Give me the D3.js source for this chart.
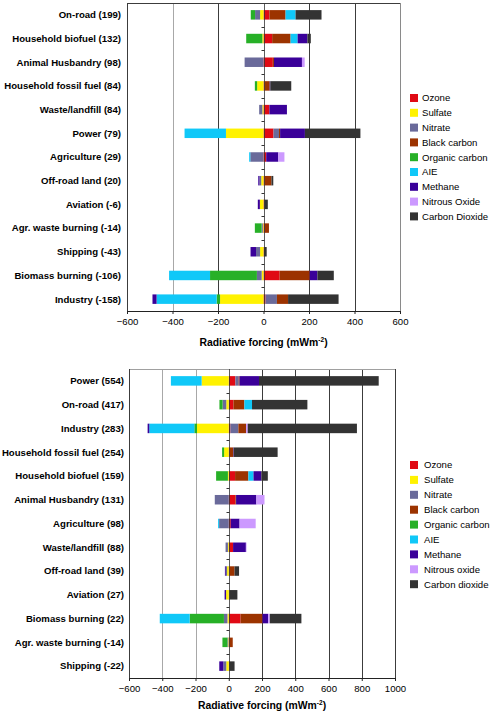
<!DOCTYPE html>
<html><head><meta charset="utf-8">
<script src="https://cdn.jsdelivr.net/npm/d3@7"></script>
<style>
html,body{margin:0;padding:0;background:#fff;}
svg text{font-family:"Liberation Sans",Arial,Helvetica,sans-serif;fill:#000;}
</style></head>
<body>
<svg id="chart" width="494" height="714"></svg>
<script>
// ---- shared ----
const seriesKeys = ["ozone","sulfate","nitrate","bc","oc","aie","methane","n2o","co2"];
const seriesColors = ["#e00a14","#fff200","#6a6a9a","#9c3300","#27b027","#10c8f8","#3a0099","#cc99ff","#333333"];
const legendTop = ["Ozone","Sulfate","Nitrate","Black carbon","Organic carbon","AIE","Methane","Nitrous Oxide","Carbon Dioxide"];
const legendBottom = ["Ozone","Sulfate","Nitrate","Black carbon","Organic carbon","AIE","Methane","Nitrous oxide","Carbon dioxide"];

// ---- top chart data ----
const topSectors = ["On-road (199)","Household biofuel (132)","Animal Husbandry (98)","Household fossil fuel (84)","Waste/landfill (84)","Power (79)","Agriculture (29)","Off-road land (20)","Aviation (-6)","Agr. waste burning (-14)","Shipping (-43)","Biomass burning (-106)","Industry (-158)"];
const topOzone   = [26, 38, 41, 5, 26, 44, 12, 5, 4, 6, 2, 71, 9];
const topSulfate = [-15, -5, 0, -28, -5, -165, 0, -10, -16, -3, -15, -8, -191];
const topNitrate = [-22, 0, -83, 0, -14, 24, -58, -8, 0, -5, -18, -21, 50];
const topBC      = [71, 81, 5, 22, 0, 5, 0, 30, 0, 18, 0, 132, 49];
const topOC      = [-19, -71, 0, -10, 0, 0, 0, 0, 0, -30, 0, -206, -15];
const topAIE     = [44, 31, 0, 0, 0, -182, -5, 0, 0, 0, 0, -180, -264];
const topMethane = [0, 43, 123, 3, 77, 109, 53, -5, -9, 0, -24, 34, -18];
const topN2O     = [0, 0, 12, 0, 0, 0, 27, 0, 0, 0, 0, 0, 0];
const topCO2     = [114, 15, 0, 92, 0, 244, 0, 8, 15, 0, 12, 72, 222];
const topTicks   = [-600, -400, -200, 0, 200, 400, 600];

// ---- bottom chart data ----
const botSectors = ["Power (554)","On-road (417)","Industry (283)","Household fossil fuel (254)","Household biofuel (159)","Animal Husbandry (131)","Agriculture (98)","Waste/landfill (88)","Off-road land (39)","Aviation (27)","Biomass burning (22)","Agr. waste burning (-14)","Shipping (-22)"];
const botOzone   = [40, 28, 10, 5, 38, 40, 12, 26, 5, 4, 71, 6, 2];
const botSulfate = [-163, -15, -191, -28, -5, 0, 0, -5, -10, -16, -8, -3, -15];
const botNitrate = [20, -22, 48, 0, 0, -84, -58, -14, -8, 0, -21, -5, -18];
const botBC      = [5, 66, 46, 22, 80, 4, 0, 0, 30, 0, 132, 18, 0];
const botOC      = [0, -19, -16, -12, -71, 0, 0, 0, 0, 0, -206, -30, 0];
const botAIE     = [-185, 46, -271, 0, 31, 0, -6, 0, 0, 0, -180, 0, 0];
const botMethane = [117, 0, -10, 3, 47, 122, 53, 77, -5, -9, 34, 0, -24];
const botN2O     = [0, 0, 10, 0, 0, 49, 97, 4, 0, 0, 10, 0, 0];
const botCO2     = [720, 333, 657, 264, 39, 0, 0, 0, 27, 48, 190, 0, 33];
const botTicks   = [-600, -400, -200, 0, 200, 400, 600, 800, 1000];

function buildRows(sectors, arrays){
  return sectors.map((s,i)=>{
    const r = {sector:s};
    seriesKeys.forEach((k,j)=>{ r[k] = arrays[j][i]; });
    return r;
  });
}

const svg = d3.select("#chart");

function drawChart(opt){
  const g = svg.append("g");
  const x = d3.scaleLinear().domain(opt.domain).range([opt.left, opt.right]);
  const y = d3.scaleBand().domain(opt.sectors).range([opt.top, opt.bottom]).paddingInner(0.6).paddingOuter(0.3);
  const rows = buildRows(opt.sectors, opt.arrays);
  const stack = d3.stack().keys(seriesKeys).offset(d3.stackOffsetDiverging);
  const layers = stack(rows);

  // gridlines
  g.selectAll("line.grid").data(opt.ticks.filter(t=>t!==opt.domain[0] && t!==opt.domain[1] && t!==0))
    .join("line")
    .attr("x1",d=>Math.round(x(d))+0.5).attr("x2",d=>Math.round(x(d))+0.5)
    .attr("y1",opt.top).attr("y2",opt.bottom)
    .attr("stroke",d=>opt.lightGrid.includes(d)?"#a8a8a8":"#3c3c3c").attr("stroke-width",1);

  // frame
  const L = Math.round(x(opt.domain[0]))+0.5, R = Math.round(x(opt.domain[1]))+0.5;
  g.append("line").attr("x1",L).attr("x2",R).attr("y1",opt.top+0.5).attr("y2",opt.top+0.5).attr("stroke",opt.topFrame);
  g.append("line").attr("x1",L).attr("x2",L).attr("y1",opt.top).attr("y2",opt.bottom).attr("stroke","#3c3c3c");
  g.append("line").attr("x1",R).attr("x2",R).attr("y1",opt.top).attr("y2",opt.bottom).attr("stroke",opt.rightFrame);

  // bars
  g.selectAll("g.layer").data(layers).join("g")
    .attr("fill",(d,i)=>seriesColors[i])
    .selectAll("rect").data(d=>d).join("rect")
    .attr("x",d=>x(Math.min(d[0],d[1])))
    .attr("width",d=>Math.abs(x(d[1])-x(d[0])))
    .attr("y",d=>y(d.data.sector))
    .attr("height",y.bandwidth());

  // category axis at zero
  const x0 = Math.round(x(0))+0.5;
  g.append("line").attr("x1",x0).attr("x2",x0).attr("y1",opt.top).attr("y2",opt.bottom).attr("stroke","#333").attr("stroke-width",0.8);
  const step = y.step();
  const bounds = d3.range(1, opt.sectors.length).map(i=>y(opt.sectors[i]) - step*y.paddingInner()/2);
  g.selectAll("line.ytick").data(bounds).join("line")
    .attr("x1",x0-3).attr("x2",x0).attr("y1",d=>Math.round(d)+0.5).attr("y2",d=>Math.round(d)+0.5)
    .attr("stroke","#333");

  // category labels
  g.selectAll("text.cat").data(opt.sectors).join("text")
    .attr("x",opt.labelX).attr("y",d=>y(d)+y.bandwidth()/2)
    .attr("dy","0.35em").attr("text-anchor","end")
    .attr("font-size","9.6px").attr("font-weight","bold").text(d=>d);

  // x axis
  const axis = d3.axisBottom(x).tickValues(opt.ticks).tickSize(3).tickPadding(4).tickFormat(d3.format("d"));
  const ax = g.append("g").attr("transform",`translate(0,${opt.bottom})`).call(axis);
  ax.select(".domain").attr("stroke","#222");
  ax.selectAll(".tick line").attr("stroke","#222");
  ax.selectAll(".tick text").attr("font-size","9.6px").attr("font-family","Liberation Sans, Arial, sans-serif").attr("fill","#000");

  // axis title
  const t = g.append("text").attr("x",(opt.left+opt.right)/2).attr("y",opt.titleY)
    .attr("text-anchor","middle").attr("font-size","10.4px").attr("font-weight","bold");
  t.append("tspan").text("Radiative forcing (mWm");
  t.append("tspan").attr("font-size","6.5px").attr("dy","-4").text("-2");
  t.append("tspan").attr("dy","4").text(")");

  // legend
  const lg = g.append("g");
  const items = lg.selectAll("g").data(opt.legend).join("g")
    .attr("transform",(d,i)=>`translate(${opt.legendX},${opt.legendY + i*opt.legendStep})`);
  items.append("rect").attr("x",0).attr("y",-4).attr("width",8).attr("height",8).attr("fill",(d,i)=>seriesColors[i]);
  items.append("text").attr("x",opt.legendTextDx).attr("y",0).attr("dy","0.35em").attr("font-size","9.6px").text(d=>d);
}

drawChart({
  sectors: topSectors,
  arrays: [topOzone, topSulfate, topNitrate, topBC, topOC, topAIE, topMethane, topN2O, topCO2],
  domain: [-600, 600], ticks: topTicks, lightGrid: [-400],
  left: 127, right: 400, top: 3, bottom: 311,
  topFrame: "#3c3c3c", rightFrame: "#8a8a8a",
  labelX: 121, titleY: 346,
  legend: legendTop, legendX: 410, legendY: 98, legendStep: 14.8, legendTextDx: 12
});

drawChart({
  sectors: botSectors,
  arrays: [botOzone, botSulfate, botNitrate, botBC, botOC, botAIE, botMethane, botN2O, botCO2],
  domain: [-600, 1000], ticks: botTicks, lightGrid: [-400, -200],
  left: 129, right: 395, top: 369, bottom: 678,
  topFrame: "#a0a0a0", rightFrame: "#3c3c3c",
  labelX: 124, titleY: 709,
  legend: legendBottom, legendX: 410, legendY: 465, legendStep: 14.9, legendTextDx: 14
});
</script>
</body></html>
